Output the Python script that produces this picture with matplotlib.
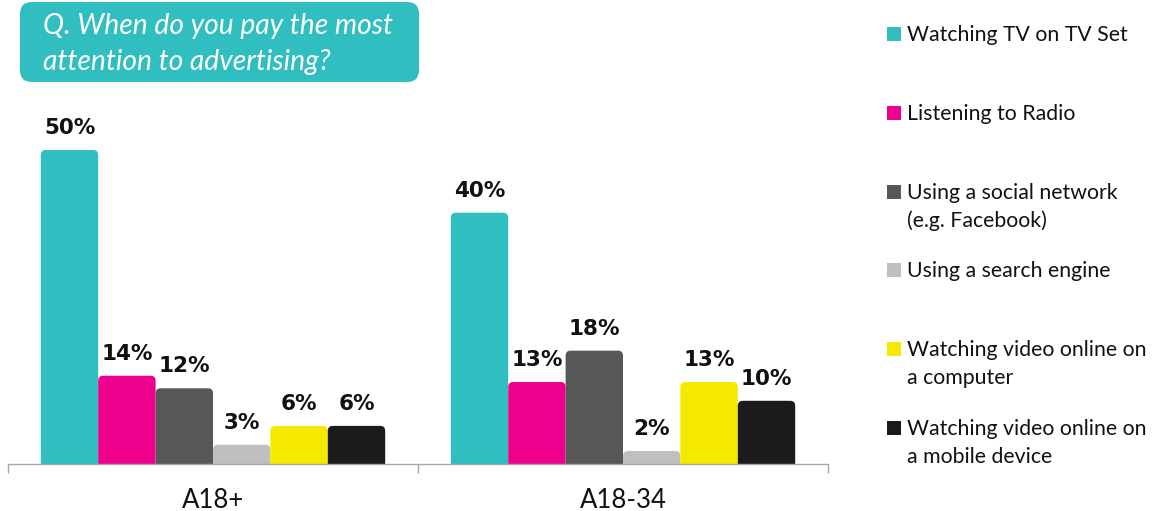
import matplotlib
matplotlib.use("Agg")
import matplotlib.pyplot as plt
from matplotlib.patches import FancyBboxPatch, Rectangle
import numpy as np

# --- data -------------------------------------------------------------
groups = ["A18+", "A18-34"]
series = [
    "Watching TV on TV Set",
    "Listening to Radio",
    "Using a social network\n(e.g. Facebook)",
    "Using a search engine",
    "Watching video online on\na computer",
    "Watching video online on\na mobile device",
]
tv_set = [50, 40]
radio = [14, 13]
social = [12, 18]
search = [3, 2]
video_computer = [6, 13]
video_mobile = [6, 10]
values = [tv_set, radio, social, search, video_computer, video_mobile]
colors = ["#31BEC0", "#EC008C", "#575757", "#BFBFBF", "#F5E900", "#1B1B1B"]
question = "Q. When do you pay the most\nattention to advertising?"

# --- figure -----------------------------------------------------------
W, H = 1165, 511
fig = plt.figure(figsize=(W / 100, H / 100), dpi=100)
fig.patch.set_facecolor("white")

def fx(px):
    return px / W

def fy(py):
    return 1 - py / H

# plot area in pixels
ax_left, ax_right = 8, 828
ax_base, ax_top = 463.5, 103.5
ax = fig.add_axes([fx(ax_left), fy(ax_base), fx(ax_right - ax_left),
                   (ax_base - ax_top) / H])
ymax = (ax_base - ax_top) / 6.27
ax.set_xlim(-0.5, len(groups) - 0.5)
ax.set_ylim(0, ymax)

bar_w = 0.14
x = np.arange(len(groups))
px_per_x = (ax_right - ax_left) / len(groups)
px_per_y = (ax_base - ax_top) / ymax
radius_px = 5
r_x = radius_px / px_per_x
aspect = (radius_px / px_per_y) / r_x

for k, (vals, col) in enumerate(zip(values, colors)):
    offs = (k - (len(values) - 1) / 2) * bar_w
    bars = ax.bar(x + offs, vals, width=bar_w, color=col)
    for rect, v in zip(bars, vals):
        rect.set_visible(False)
        bx, bw, bh = rect.get_x(), rect.get_width(), rect.get_height()
        fancy = FancyBboxPatch((bx, -3), bw, bh + 3,
                               boxstyle=f"round,pad=0,rounding_size={r_x}",
                               mutation_aspect=aspect,
                               facecolor=col, edgecolor="none")
        ax.add_patch(fancy)
        ax.annotate(f"{v}%", xy=(bx + bw / 2, bh), xytext=(0, 16 * 0.72),
                    textcoords="offset points", ha="center", va="baseline",
                    fontsize=15.5, fontweight="bold", family="DejaVu Sans",
                    color="#111111")

# axis line and category separators
for s in ["top", "right", "left"]:
    ax.spines[s].set_visible(False)
ax.spines["bottom"].set_color("#A6A6A6")
ax.spines["bottom"].set_linewidth(1.0)
ax.set_yticks([])
ax.set_xticks(np.arange(-0.5, len(groups)), minor=True)
ax.tick_params(axis="x", which="minor", length=9 * 0.72, color="#A6A6A6",
               width=1.0, direction="out")
ax.set_xticks(x)
ax.set_xticklabels([])
ax.tick_params(axis="x", which="major", length=0)
label_y = -(508 - ax_base) / (ax_base - ax_top)
for xi, g in zip(x, groups):
    ax.text(xi, label_y, g, transform=ax.get_xaxis_transform(),
            ha="center", va="baseline", fontsize=18.5, family="Lato",
            color="#111111")

# --- question box -----------------------------------------------------
bx0, by0, bx1, by1 = 20, 2, 419, 82
box = FancyBboxPatch((fx(bx0), fy(by1)), fx(bx1 - bx0), (by1 - by0) / H,
                     boxstyle=f"round,pad=0,rounding_size={12 / W}",
                     mutation_aspect=W / H, transform=fig.transFigure,
                     facecolor="#31BEC0", edgecolor="none")
fig.patches.append(box)
for i, line in enumerate(question.split("\n")):
    fig.text(fx(43), fy(34 + 36 * i), line, ha="left", va="baseline",
             fontsize=20.3, style="italic", family="Lato", color="white")

# --- legend -----------------------------------------------------------
for i, (lab, col) in enumerate(zip(series, colors)):
    top = 27 + 78.8 * i
    fig.patches.append(Rectangle((fx(887), fy(top + 14)), fx(14), 14 / H,
                                 transform=fig.transFigure,
                                 facecolor=col, edgecolor="none"))
    for j, line in enumerate(lab.split("\n")):
        fig.text(fx(907), fy(top + 14 + 28 * j), line, ha="left",
                 va="baseline", fontsize=15.3, family="Lato", color="#111111")

fig.savefig("out.png", dpi=100, facecolor="white")
